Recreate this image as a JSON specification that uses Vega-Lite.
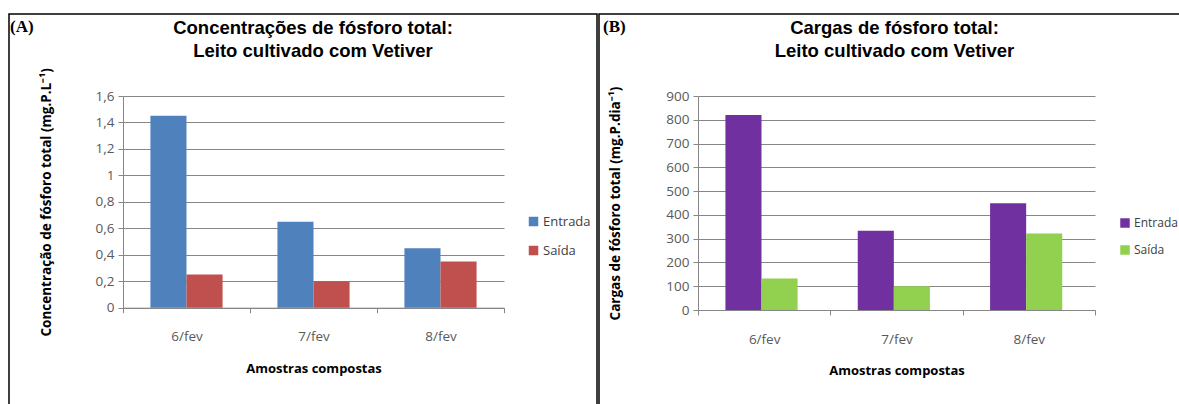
{
  "$schema": "https://vega.github.io/schema/vega-lite/v6.json",
  "background": "white",
  "padding": {"left": 8, "top": 13, "right": 0, "bottom": 0},
  "spacing": 0,
  "config": {
    "view": {"stroke": "#000000", "strokeWidth": 1.5},
    "concat": {"spacing": 0},
    "font": "Open Sans",
    "axis": {
      "domainColor": "#868686",
      "tickColor": "#868686",
      "gridColor": "#868686",
      "labelColor": "#595959",
      "labelFont": "Open Sans",
      "labelFontSize": 13.5,
      "titleFont": "Open Sans",
      "titleFontWeight": "bold",
      "titleColor": "#000000",
      "tickSize": 5
    },
    "legend": {
      "labelFont": "Open Sans",
      "labelFontSize": 13,
      "labelColor": "#404040",
      "symbolType": "square",
      "symbolSize": 90,
      "symbolStrokeWidth": 0,
      "padding": 0,
      "rowPadding": 15,
      "labelOffset": 3
    },
    "title": {"font": "Liberation Sans", "fontWeight": "bold", "color": "#000000"}
  },
  "datasets": {
    "concentracao": [
      {"amostra": "6/fev", "ponto": "Entrada", "valor": 1.45},
      {"amostra": "6/fev", "ponto": "Saída", "valor": 0.25},
      {"amostra": "7/fev", "ponto": "Entrada", "valor": 0.65},
      {"amostra": "7/fev", "ponto": "Saída", "valor": 0.2},
      {"amostra": "8/fev", "ponto": "Entrada", "valor": 0.45},
      {"amostra": "8/fev", "ponto": "Saída", "valor": 0.35}
    ],
    "carga": [
      {"amostra": "6/fev", "ponto": "Entrada", "valor": 820},
      {"amostra": "6/fev", "ponto": "Saída", "valor": 133},
      {"amostra": "7/fev", "ponto": "Entrada", "valor": 333},
      {"amostra": "7/fev", "ponto": "Saída", "valor": 100},
      {"amostra": "8/fev", "ponto": "Entrada", "valor": 449},
      {"amostra": "8/fev", "ponto": "Saída", "valor": 322}
    ]
  },
  "hconcat": [
    {
      "title": {"text": "(A)", "anchor": "start", "frame": "group", "offset": -23, "dx": 1, "font": "Liberation Serif", "fontSize": 17, "fontWeight": "bold"},
      "vconcat": [
        {
          "width": 588,
          "height": 391,
          "data": {"name": "concentracao"},
          "title": {
            "text": ["Concentrações de fósforo total:", "Leito cultivado com Vetiver"],
            "anchor": "middle", "frame": "group", "offset": -46, "dx": 10,
            "fontSize": 18.5, "lineHeight": 23
          },
          "mark": {"type": "bar"},
          "encoding": {
            "x": {
              "field": "amostra", "type": "nominal", "sort": null,
              "scale": {"range": [114, 495], "paddingInner": 0, "paddingOuter": 0},
              "axis": {
                "offset": -97.3, "tickBand": "extent", "labelAngle": 0, "labelPadding": 17,
                "title": "Amostras compostas", "titleFontSize": 13, "titlePadding": 19, "grid": false
              }
            },
            "xOffset": {"field": "ponto", "sort": ["Entrada", "Saída"], "scale": {"paddingInner": 0, "paddingOuter": 0.76}},
            "y": {
              "field": "valor", "type": "quantitative",
              "scale": {"domain": [0, 1.6], "range": [293.7, 82], "nice": false},
              "axis": {
                "offset": -114, "values": [0, 0.2, 0.4, 0.6, 0.8, 1, 1.2, 1.4, 1.6],
                "labelExpr": "replace(format(datum.value, '.1~f'), '.', ',')",
                "labelPadding": 4, "grid": true,
                "title": "Concentração de fósforo total (mg.P.L⁻¹)", "titleFontSize": 13.5, "titleX": -70
              }
            },
            "color": {
              "field": "ponto", "type": "nominal", "sort": ["Entrada", "Saída"],
              "scale": {"range": ["#4F81BD", "#C0504D"]},
              "legend": {"title": null, "orient": "none", "legendX": 518, "legendY": 201}
            }
          }
        }
      ]
    },
    {
      "title": {"text": "(B)", "anchor": "start", "frame": "group", "offset": -23, "dx": 4, "font": "Liberation Serif", "fontSize": 17, "fontWeight": "bold"},
      "vconcat": [
        {
          "width": 583,
          "height": 391,
          "data": {"name": "carga"},
          "title": {
            "text": ["Cargas de fósforo total:", "Leito cultivado com Vetiver"],
            "anchor": "middle", "frame": "group", "offset": -46, "dx": 4,
            "fontSize": 18.5, "lineHeight": 23
          },
          "mark": {"type": "bar"},
          "encoding": {
            "x": {
              "field": "amostra", "type": "nominal", "sort": null,
              "scale": {"range": [99, 496], "paddingInner": 0, "paddingOuter": 0},
              "axis": {
                "offset": -95, "tickBand": "extent", "labelAngle": 0, "labelPadding": 17,
                "title": "Amostras compostas", "titleFontSize": 13, "titlePadding": 19, "grid": false
              }
            },
            "xOffset": {"field": "ponto", "sort": ["Entrada", "Saída"], "scale": {"paddingInner": 0, "paddingOuter": 0.74}},
            "y": {
              "field": "valor", "type": "quantitative",
              "scale": {"domain": [0, 900], "range": [296, 82], "nice": false},
              "axis": {
                "offset": -99, "values": [0, 100, 200, 300, 400, 500, 600, 700, 800, 900],
                "labelPadding": 4, "grid": true,
                "title": "Cargas de fósforo total (mg.P.dia⁻¹)", "titleFontSize": 13.5, "titleX": -76
              }
            },
            "color": {
              "field": "ponto", "type": "nominal", "sort": ["Entrada", "Saída"],
              "scale": {"range": ["#7030A0", "#92D050"]},
              "legend": {"title": null, "orient": "none", "legendX": 520, "legendY": 203, "labelFontSize": 12}
            }
          }
        }
      ]
    }
  ],
  "resolve": {"scale": {"color": "independent", "y": "independent", "x": "independent"}}
}
